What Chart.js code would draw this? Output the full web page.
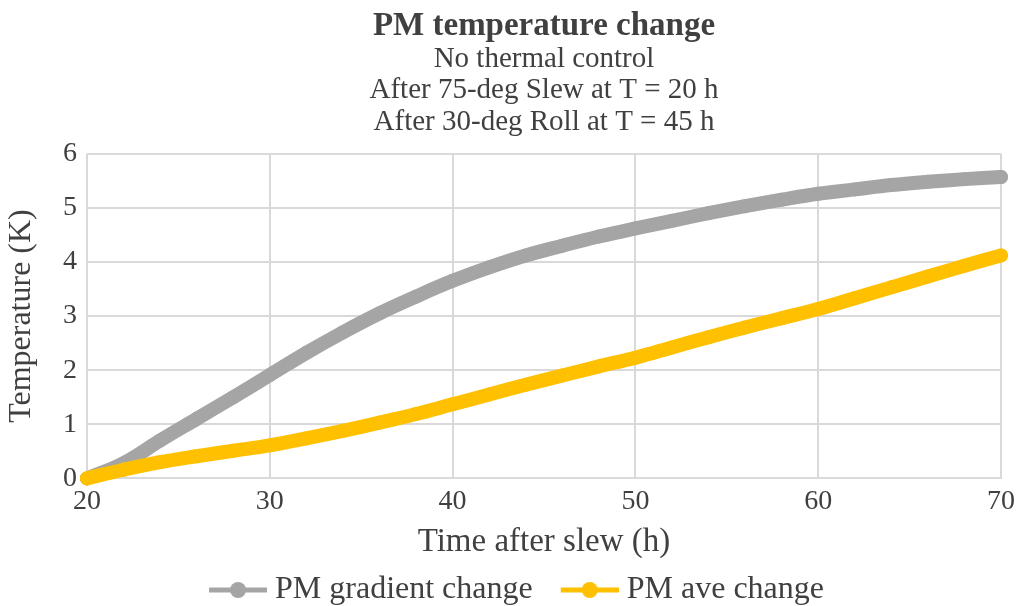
<!DOCTYPE html>
<html>
<head>
<meta charset="utf-8">
<script src="https://cdn.jsdelivr.net/npm/chart.js@4.4.1/dist/chart.umd.min.js"></script>
<style>
  html, body { margin: 0; padding: 0; background: #ffffff; }
  #wrap { width: 1021px; height: 606px; }
</style>
</head>
<body>
<div id="wrap"><canvas id="c" width="1021" height="606"></canvas></div>
<script>
// ---- data ----
const timeHours = [20, 22, 24, 26, 28, 30, 32, 34, 36, 38, 40, 42, 44, 46, 48, 50, 52, 54, 56, 58, 60, 62, 64, 66, 68, 70];
const gradientChange = [0, 0.28, 0.7, 1.1, 1.5, 1.91, 2.32, 2.7, 3.05, 3.36, 3.65, 3.9, 4.12, 4.3, 4.47, 4.62, 4.76, 4.9, 5.03, 5.15, 5.26, 5.34, 5.42, 5.48, 5.53, 5.57];
const aveChange = [0, 0.16, 0.3, 0.41, 0.51, 0.61, 0.74, 0.88, 1.03, 1.19, 1.37, 1.55, 1.73, 1.9, 2.07, 2.23, 2.42, 2.61, 2.79, 2.96, 3.13, 3.33, 3.53, 3.73, 3.93, 4.12];
const seriesNames = ['PM gradient change', 'PM ave change'];
const titleText = 'PM temperature change';
const subtitleLines = ['No thermal control', 'After 75-deg Slew at T = 20 h', 'After 30-deg Roll at T = 45 h'];
const xTitle = 'Time after slew (h)';
const yTitle = 'Temperature (K)';

const GRAY = '#A5A5A5';
const GOLD = '#FFC000';
const TXT = '#404040';
const FONT = "'Liberation Serif', 'Times New Roman', serif";

function toPoints(xs, ys) { return xs.map((x, i) => ({ x: x, y: ys[i] })); }

// legend icon: line with a dot; image 80 wide, icon occupies x 22..80
function legendIcon(color) {
  const cv = document.createElement('canvas');
  cv.width = 80; cv.height = 18;
  const g = cv.getContext('2d');
  g.strokeStyle = color; g.lineWidth = 5; g.lineCap = 'butt';
  g.beginPath(); g.moveTo(22, 9); g.lineTo(80, 9); g.stroke();
  g.fillStyle = color;
  g.beginPath(); g.arc(51, 9, 8, 0, Math.PI * 2); g.fill();
  return cv;
}

function seriesStyle(color) {
  return {
    borderColor: color, backgroundColor: color,
    borderWidth: 14, borderCapStyle: 'round', borderJoinStyle: 'round',
    pointRadius: 7, pointBorderWidth: 0, pointBackgroundColor: color,
    tension: 0.4, clip: false
  };
}

// yellow series first so it is painted on top (as in the reference); legend re-sorted below
const datasets = [
  Object.assign({ label: seriesNames[1], data: toPoints(timeHours, aveChange) }, seriesStyle(GOLD)),
  Object.assign({ label: seriesNames[0], data: toPoints(timeHours, gradientChange) }, seriesStyle(GRAY))
];

new Chart(document.getElementById('c'), {
  type: 'line',
  data: { datasets: datasets },
  options: {
    responsive: false,
    animation: false,
    layout: { padding: { left: 4, right: 6, top: 6, bottom: -10 } },
    plugins: {
      title: {
        display: true, text: titleText, color: TXT, fullSize: false,
        font: { family: FONT, size: 33, weight: 'bold', lineHeight: 1.0 },
        padding: { top: 4, bottom: 0 }
      },
      subtitle: {
        display: true, text: subtitleLines, color: TXT, fullSize: false,
        font: { family: FONT, size: 29, lineHeight: 1.1 },
        padding: { top: 0, bottom: 15 }
      },
      legend: {
        position: 'bottom',
        labels: {
          color: TXT,
          font: { family: FONT, size: 32 },
          usePointStyle: true,
          pointStyleWidth: 64,
          boxHeight: 18,
          padding: 14,
          sort: function (a, b) { return b.datasetIndex - a.datasetIndex; },
          generateLabels: function (chart) {
            const items = Chart.defaults.plugins.legend.labels.generateLabels(chart);
            items.forEach((it) => {
              it.pointStyle = legendIcon(chart.data.datasets[it.datasetIndex].borderColor);
            });
            return items;
          }
        }
      },
      tooltip: { enabled: false }
    },
    scales: {
      x: {
        type: 'linear', min: 20, max: 70,
        ticks: { stepSize: 10, color: TXT, font: { family: FONT, size: 28 }, padding: 6 },
        grid: { color: '#D9D9D9', lineWidth: 2, drawTicks: false },
        border: { color: '#D9D9D9', width: 2 },
        title: { display: true, text: xTitle, color: TXT, font: { family: FONT, size: 33, lineHeight: 1.0 }, padding: { top: 2, bottom: 1 } }
      },
      y: {
        min: 0, max: 6,
        ticks: { stepSize: 1, color: TXT, font: { family: FONT, size: 28 }, padding: 10 },
        grid: { color: '#D9D9D9', lineWidth: 2, drawTicks: false },
        border: { display: false },
        title: { display: true, text: yTitle, color: TXT, font: { family: FONT, size: 32, lineHeight: 1.0 }, padding: { top: 2, bottom: 15 } }
      }
    }
  }
});
</script>
</body>
</html>
